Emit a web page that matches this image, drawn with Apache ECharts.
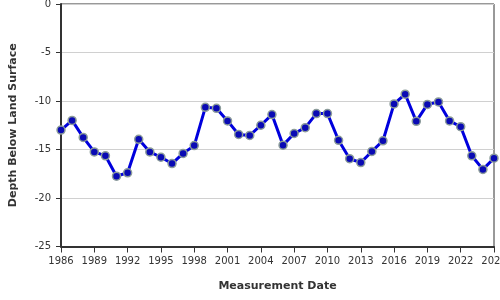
<!DOCTYPE html>
<html>
<head>
<meta charset="utf-8">
<script src="https://cdn.jsdelivr.net/npm/echarts@6/dist/echarts.min.js"></script>
<style>
html,body{margin:0;padding:0;background:#fff;}
#chart{width:500px;height:300px;}
</style>
</head>
<body>
<div id="chart"></div>
<script>
var years = [1986,1987,1988,1989,1990,1991,1992,1993,1994,1995,1996,1997,1998,1999,2000,2001,2002,2003,2004,2005,2006,2007,2008,2009,2010,2011,2012,2013,2014,2015,2016,2017,2018,2019,2020,2021,2022,2023,2024,2025];
var depths = [-13.0,-12.0,-13.75,-15.25,-15.65,-17.75,-17.4,-13.95,-15.25,-15.8,-16.45,-15.4,-14.6,-10.65,-10.75,-12.05,-13.45,-13.55,-12.5,-11.4,-14.55,-13.35,-12.75,-11.3,-11.3,-14.05,-15.95,-16.35,-15.2,-14.1,-10.3,-9.3,-12.1,-10.35,-10.1,-12.05,-12.65,-15.65,-17.05,-15.9];
var xTickYears = [1986,1989,1992,1995,1998,2001,2004,2007,2010,2013,2016,2019,2022,2025];
var yTicks = [0,-5,-10,-15,-20,-25];

var pts = years.map(function(y,i){return [y, depths[i]];});
var chart = echarts.init(document.getElementById('chart'), null, {renderer:'canvas'});
chart.setOption({
  animation:false,
  grid:{left:61,right:6,top:4,bottom:53.5,show:true,borderColor:'#333',borderWidth:1,
    containLabel:false,outerBoundsMode:'none'},
  xAxis:{
    type:'value',min:xTickYears[0],max:xTickYears[xTickYears.length-1],interval:3,
    name:'Measurement Date',nameLocation:'middle',nameGap:34,
    nameTextStyle:{fontFamily:'DejaVu Sans',fontSize:11,fontWeight:'bold',color:'#333'},
    axisLine:{show:true,onZero:false,lineStyle:{color:'#333',width:2}},
    axisTick:{show:true,length:6,lineStyle:{color:'#333',width:1}},
    axisLabel:{margin:10,fontFamily:'DejaVu Sans',fontSize:10,color:'#333',
      formatter:function(v){return String(v);},showMaxLabel:true,showMinLabel:true,hideOverlap:false},
    splitLine:{show:false}
  },
  yAxis:{
    type:'value',min:yTicks[yTicks.length-1],max:yTicks[0],interval:5,
    name:'Depth Below Land Surface',nameLocation:'middle',nameGap:42,
    nameTextStyle:{fontFamily:'DejaVu Sans',fontSize:11,fontWeight:'bold',color:'#333'},
    axisLine:{show:true,onZero:false,lineStyle:{color:'#333',width:2}},
    axisTick:{show:true,length:5,lineStyle:{color:'#333',width:1}},
    axisLabel:{margin:10,fontFamily:'DejaVu Sans',fontSize:10,color:'#333'},
    splitLine:{show:true,lineStyle:{color:'#d0d0d0',width:1}}
  },
  series:[{
    type:'line',data:pts,
    lineStyle:{color:'#0000dd',width:3},
    symbol:'circle',symbolSize:8,
    itemStyle:{color:'#0a0ab4',borderColor:'#8c9c9a',borderWidth:1.5},
    z:3
  }]
});
</script>
</body>
</html>
